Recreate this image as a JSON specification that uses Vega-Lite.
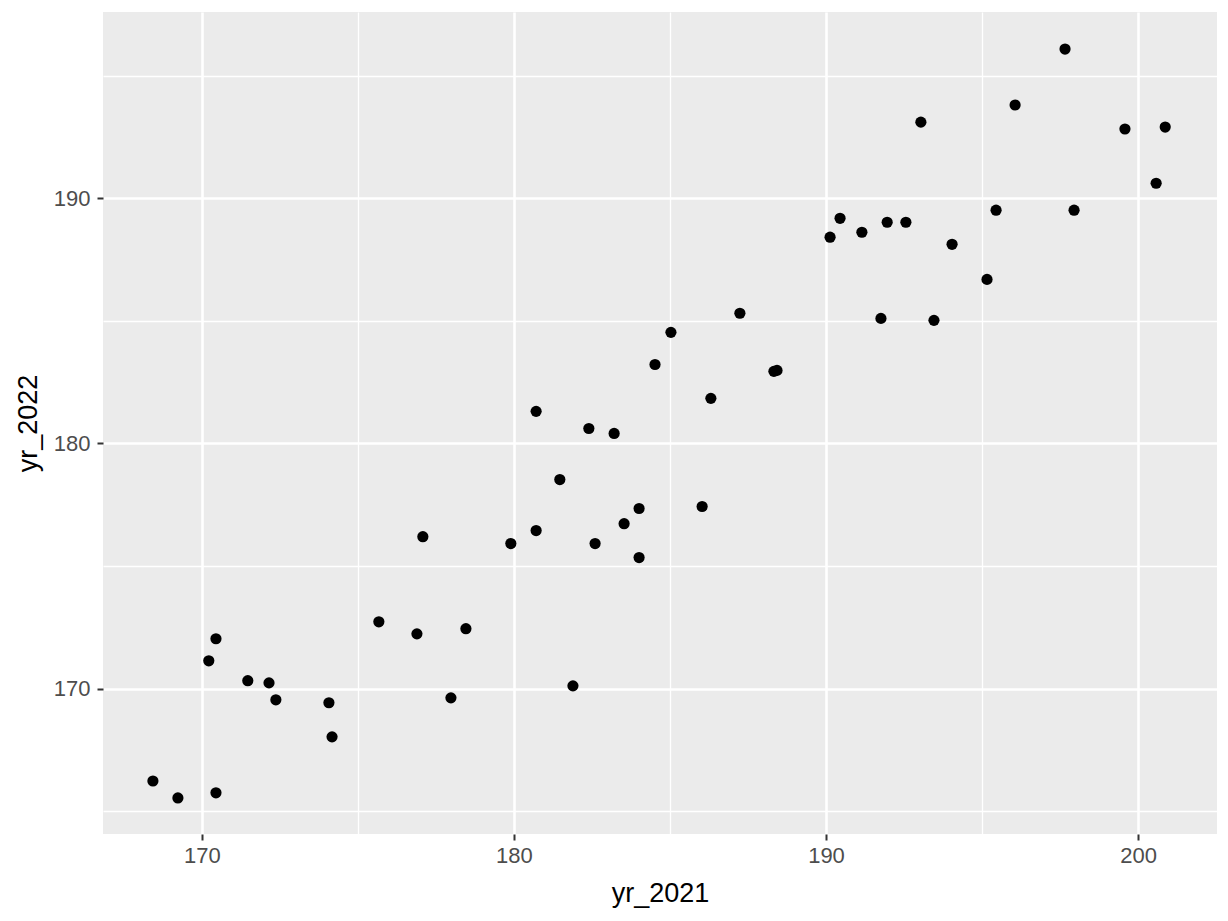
{
  "$schema": "https://vega.github.io/schema/vega-lite/v6.json",
  "width": 1114,
  "height": 822,
  "autosize": "none",
  "padding": {"left": 103, "top": 12, "right": 11, "bottom": 87},
  "background": "white",
  "config": {
    "view": {"fill": "#EBEBEB", "stroke": null},
    "font": "Liberation Sans",
    "axis": {
      "domain": false,
      "tickColor": "#333333",
      "tickSize": 6,
      "tickWidth": 2,
      "labelFont": "Liberation Sans",
      "labelFontSize": 22,
      "labelColor": "#4D4D4D",
      "titleFont": "Liberation Sans",
      "titleFontSize": 27,
      "titleFontWeight": "normal",
      "titleColor": "#000000",
      "gridColor": "#FFFFFF"
    }
  },
  "data": {
    "values": [
      {"yr_2021": 168.43, "yr_2022": 166.24},
      {"yr_2021": 169.23, "yr_2022": 165.55},
      {"yr_2021": 170.45, "yr_2022": 165.76},
      {"yr_2021": 170.22, "yr_2022": 171.14},
      {"yr_2021": 170.45, "yr_2022": 172.04},
      {"yr_2021": 171.47, "yr_2022": 170.33},
      {"yr_2021": 172.15, "yr_2022": 170.24},
      {"yr_2021": 172.37, "yr_2022": 169.55},
      {"yr_2021": 174.07, "yr_2022": 169.43},
      {"yr_2021": 174.17, "yr_2022": 168.04},
      {"yr_2021": 175.67, "yr_2022": 172.73},
      {"yr_2021": 176.89, "yr_2022": 172.24},
      {"yr_2021": 177.08, "yr_2022": 176.20},
      {"yr_2021": 177.98, "yr_2022": 169.63},
      {"yr_2021": 178.46, "yr_2022": 172.45},
      {"yr_2021": 179.90, "yr_2022": 175.92},
      {"yr_2021": 180.71, "yr_2022": 181.31},
      {"yr_2021": 180.71, "yr_2022": 176.45},
      {"yr_2021": 181.47, "yr_2022": 178.53},
      {"yr_2021": 181.89, "yr_2022": 170.12},
      {"yr_2021": 182.40, "yr_2022": 180.61},
      {"yr_2021": 182.60, "yr_2022": 175.92},
      {"yr_2021": 183.21, "yr_2022": 180.41},
      {"yr_2021": 183.53, "yr_2022": 176.73},
      {"yr_2021": 184.01, "yr_2022": 177.35},
      {"yr_2021": 184.01, "yr_2022": 175.35},
      {"yr_2021": 184.52, "yr_2022": 183.22},
      {"yr_2021": 185.03, "yr_2022": 184.53},
      {"yr_2021": 186.03, "yr_2022": 177.43},
      {"yr_2021": 186.31, "yr_2022": 181.84},
      {"yr_2021": 187.24, "yr_2022": 185.31},
      {"yr_2021": 188.33, "yr_2022": 182.94},
      {"yr_2021": 188.43, "yr_2022": 182.98},
      {"yr_2021": 190.13, "yr_2022": 188.41},
      {"yr_2021": 190.45, "yr_2022": 189.18},
      {"yr_2021": 191.15, "yr_2022": 188.61},
      {"yr_2021": 191.76, "yr_2022": 185.10},
      {"yr_2021": 191.96, "yr_2022": 189.02},
      {"yr_2021": 192.56, "yr_2022": 189.02},
      {"yr_2021": 193.04, "yr_2022": 193.10},
      {"yr_2021": 193.46, "yr_2022": 185.02},
      {"yr_2021": 194.04, "yr_2022": 188.12},
      {"yr_2021": 195.16, "yr_2022": 186.69},
      {"yr_2021": 195.45, "yr_2022": 189.51},
      {"yr_2021": 196.06, "yr_2022": 193.80},
      {"yr_2021": 197.66, "yr_2022": 196.08},
      {"yr_2021": 197.95, "yr_2022": 189.51},
      {"yr_2021": 199.58, "yr_2022": 192.82},
      {"yr_2021": 200.58, "yr_2022": 190.61},
      {"yr_2021": 200.87, "yr_2022": 192.90}
    ]
  },
  "layer": [
    {
      "mark": {"type": "point", "opacity": 0},
      "encoding": {
        "x": {
          "field": "yr_2021", "type": "quantitative",
          "scale": {"domain": [166.83, 202.53], "nice": false, "zero": false},
          "axis": {"orient": "top", "values": [165, 175, 185, 195], "labels": false, "ticks": false, "title": null, "grid": true, "gridWidth": 1.3}
        },
        "y": {
          "field": "yr_2022", "type": "quantitative",
          "scale": {"domain": [164.08, 197.59], "nice": false, "zero": false},
          "axis": {"orient": "right", "values": [165, 175, 185, 195], "labels": false, "ticks": false, "title": null, "grid": true, "gridWidth": 1.3}
        }
      }
    },
    {
      "mark": {"type": "circle", "size": 125, "color": "#000000", "opacity": 1},
      "encoding": {
        "x": {
          "field": "yr_2021", "type": "quantitative",
          "scale": {"domain": [166.83, 202.53], "nice": false, "zero": false},
          "axis": {"orient": "bottom", "values": [170, 180, 190, 200], "grid": true, "gridWidth": 2.6, "title": "yr_2021", "labelPadding": 5, "titlePadding": 14}
        },
        "y": {
          "field": "yr_2022", "type": "quantitative",
          "scale": {"domain": [164.08, 197.59], "nice": false, "zero": false},
          "axis": {"orient": "left", "values": [170, 180, 190], "grid": true, "gridWidth": 2.6, "title": "yr_2022", "labelPadding": 7, "titlePadding": 11}
        }
      }
    }
  ],
  "resolve": {"axis": {"x": "independent", "y": "independent"}}
}
